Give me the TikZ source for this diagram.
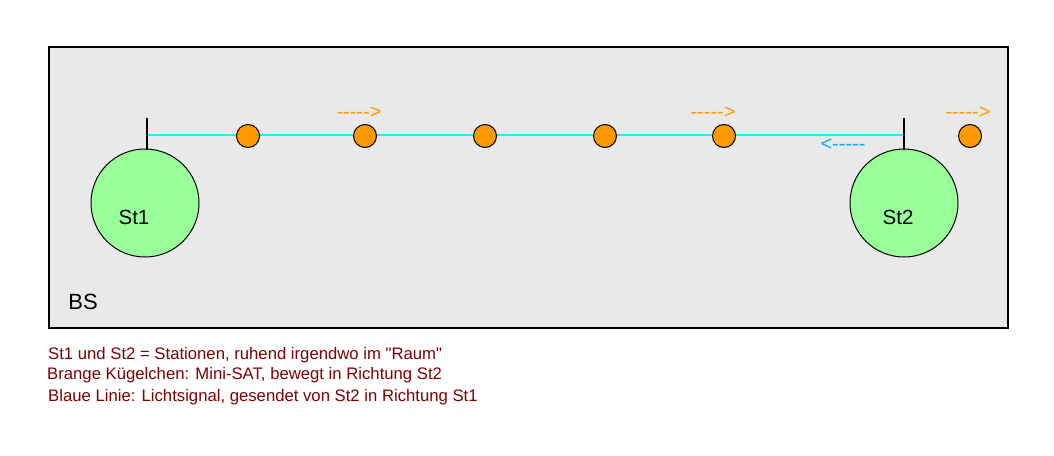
\documentclass[tikz,border=0pt]{standalone}
\usepackage{fontspec}
\setmainfont{Liberation Sans}[Ligatures=TeXOff]
\definecolor{bsgray}{HTML}{E9E9E9}
\definecolor{stgreen}{HTML}{99FF99}
\definecolor{satorange}{HTML}{FF9900}
\definecolor{lightcyan}{HTML}{00FFFF}
\definecolor{notered}{HTML}{800000}
\newcommand{\hy}{\symbol{45}}
\begin{document}
\begin{tikzpicture}[x=1pt,y=-1pt,
  station/.style={circle,draw=black,line width=1pt,fill=stgreen,minimum size=108pt,inner sep=0pt},
  sat/.style={circle,draw=black,line width=1pt,fill=satorange,minimum size=23pt,inner sep=0pt},
  lbl/.style={font=\fontsize{20.5}{24}\selectfont,inner sep=0pt},
  arr/.style={font=\fontsize{20}{22}\selectfont,inner sep=0pt},
  note/.style={font=\fontsize{16.7}{19}\selectfont,text=notered,inner sep=0pt,anchor=west}]
\useasboundingbox[fill=white] (0,0) rectangle (1054,455);
\node[draw=black,line width=2pt,fill=bsgray,minimum width=959pt,minimum height=281pt,anchor=north west,inner sep=0pt] (bs) at (48,46) {};
\node[station] (st1) at (145,203) {};
\node[station] (st2) at (904,203) {};
\coordinate (t1top) at (147,118);
\coordinate (t1bot) at (147,150);
\coordinate (t2top) at (904,118);
\coordinate (t2bot) at (904,150);
\coordinate (l1) at (147,135);
\coordinate (l2) at (904,135);
\draw[lightcyan,line width=2pt] (l1) -- (l2);
\draw[black,line width=1.5pt] (t1top) -- (t1bot);
\draw[black,line width=1.5pt] (t2top) -- (t2bot);
\node[sat] (s1) at (248,136) {};
\node[sat] (s2) at (365,136) {};
\node[sat] (s3) at (485,136) {};
\node[sat] (s4) at (605,136) {};
\node[sat] (s5) at (724,136) {};
\node[sat] (s6) at (970,136) {};
\node[lbl] (n1) at (134,217) {St1};
\node[lbl] (n2) at (898,217) {St2};
\node[lbl,font=\fontsize{22}{24}\selectfont] (nbs) at (83,302) {BS};
\node[arr,text=satorange] (a1) at (359,113) {\hy\hy\hy\hy\hy\symbol{62}};
\node[arr,text=satorange] (a2) at (713,113) {\hy\hy\hy\hy\hy\symbol{62}};
\node[arr,text=satorange] (a3) at (968,113) {\hy\hy\hy\hy\hy\symbol{62}};
\node[arr,text=lightcyan!70!blue] (a4) at (843,145) {\symbol{60}\hy\hy\hy\hy\hy};
\node[note] (t1) at (48,355) {St1 und St2 = Stationen, ruhend irgendwo im "Raum"};
\node[note] (t2) at (47,375) {Brange Kügelchen: Mini-SAT, bewegt in Richtung St2};
\node[note] (t3) at (48,397) {Blaue Linie: Lichtsignal, gesendet von St2 in Richtung St1};
\end{tikzpicture}
\end{document}
